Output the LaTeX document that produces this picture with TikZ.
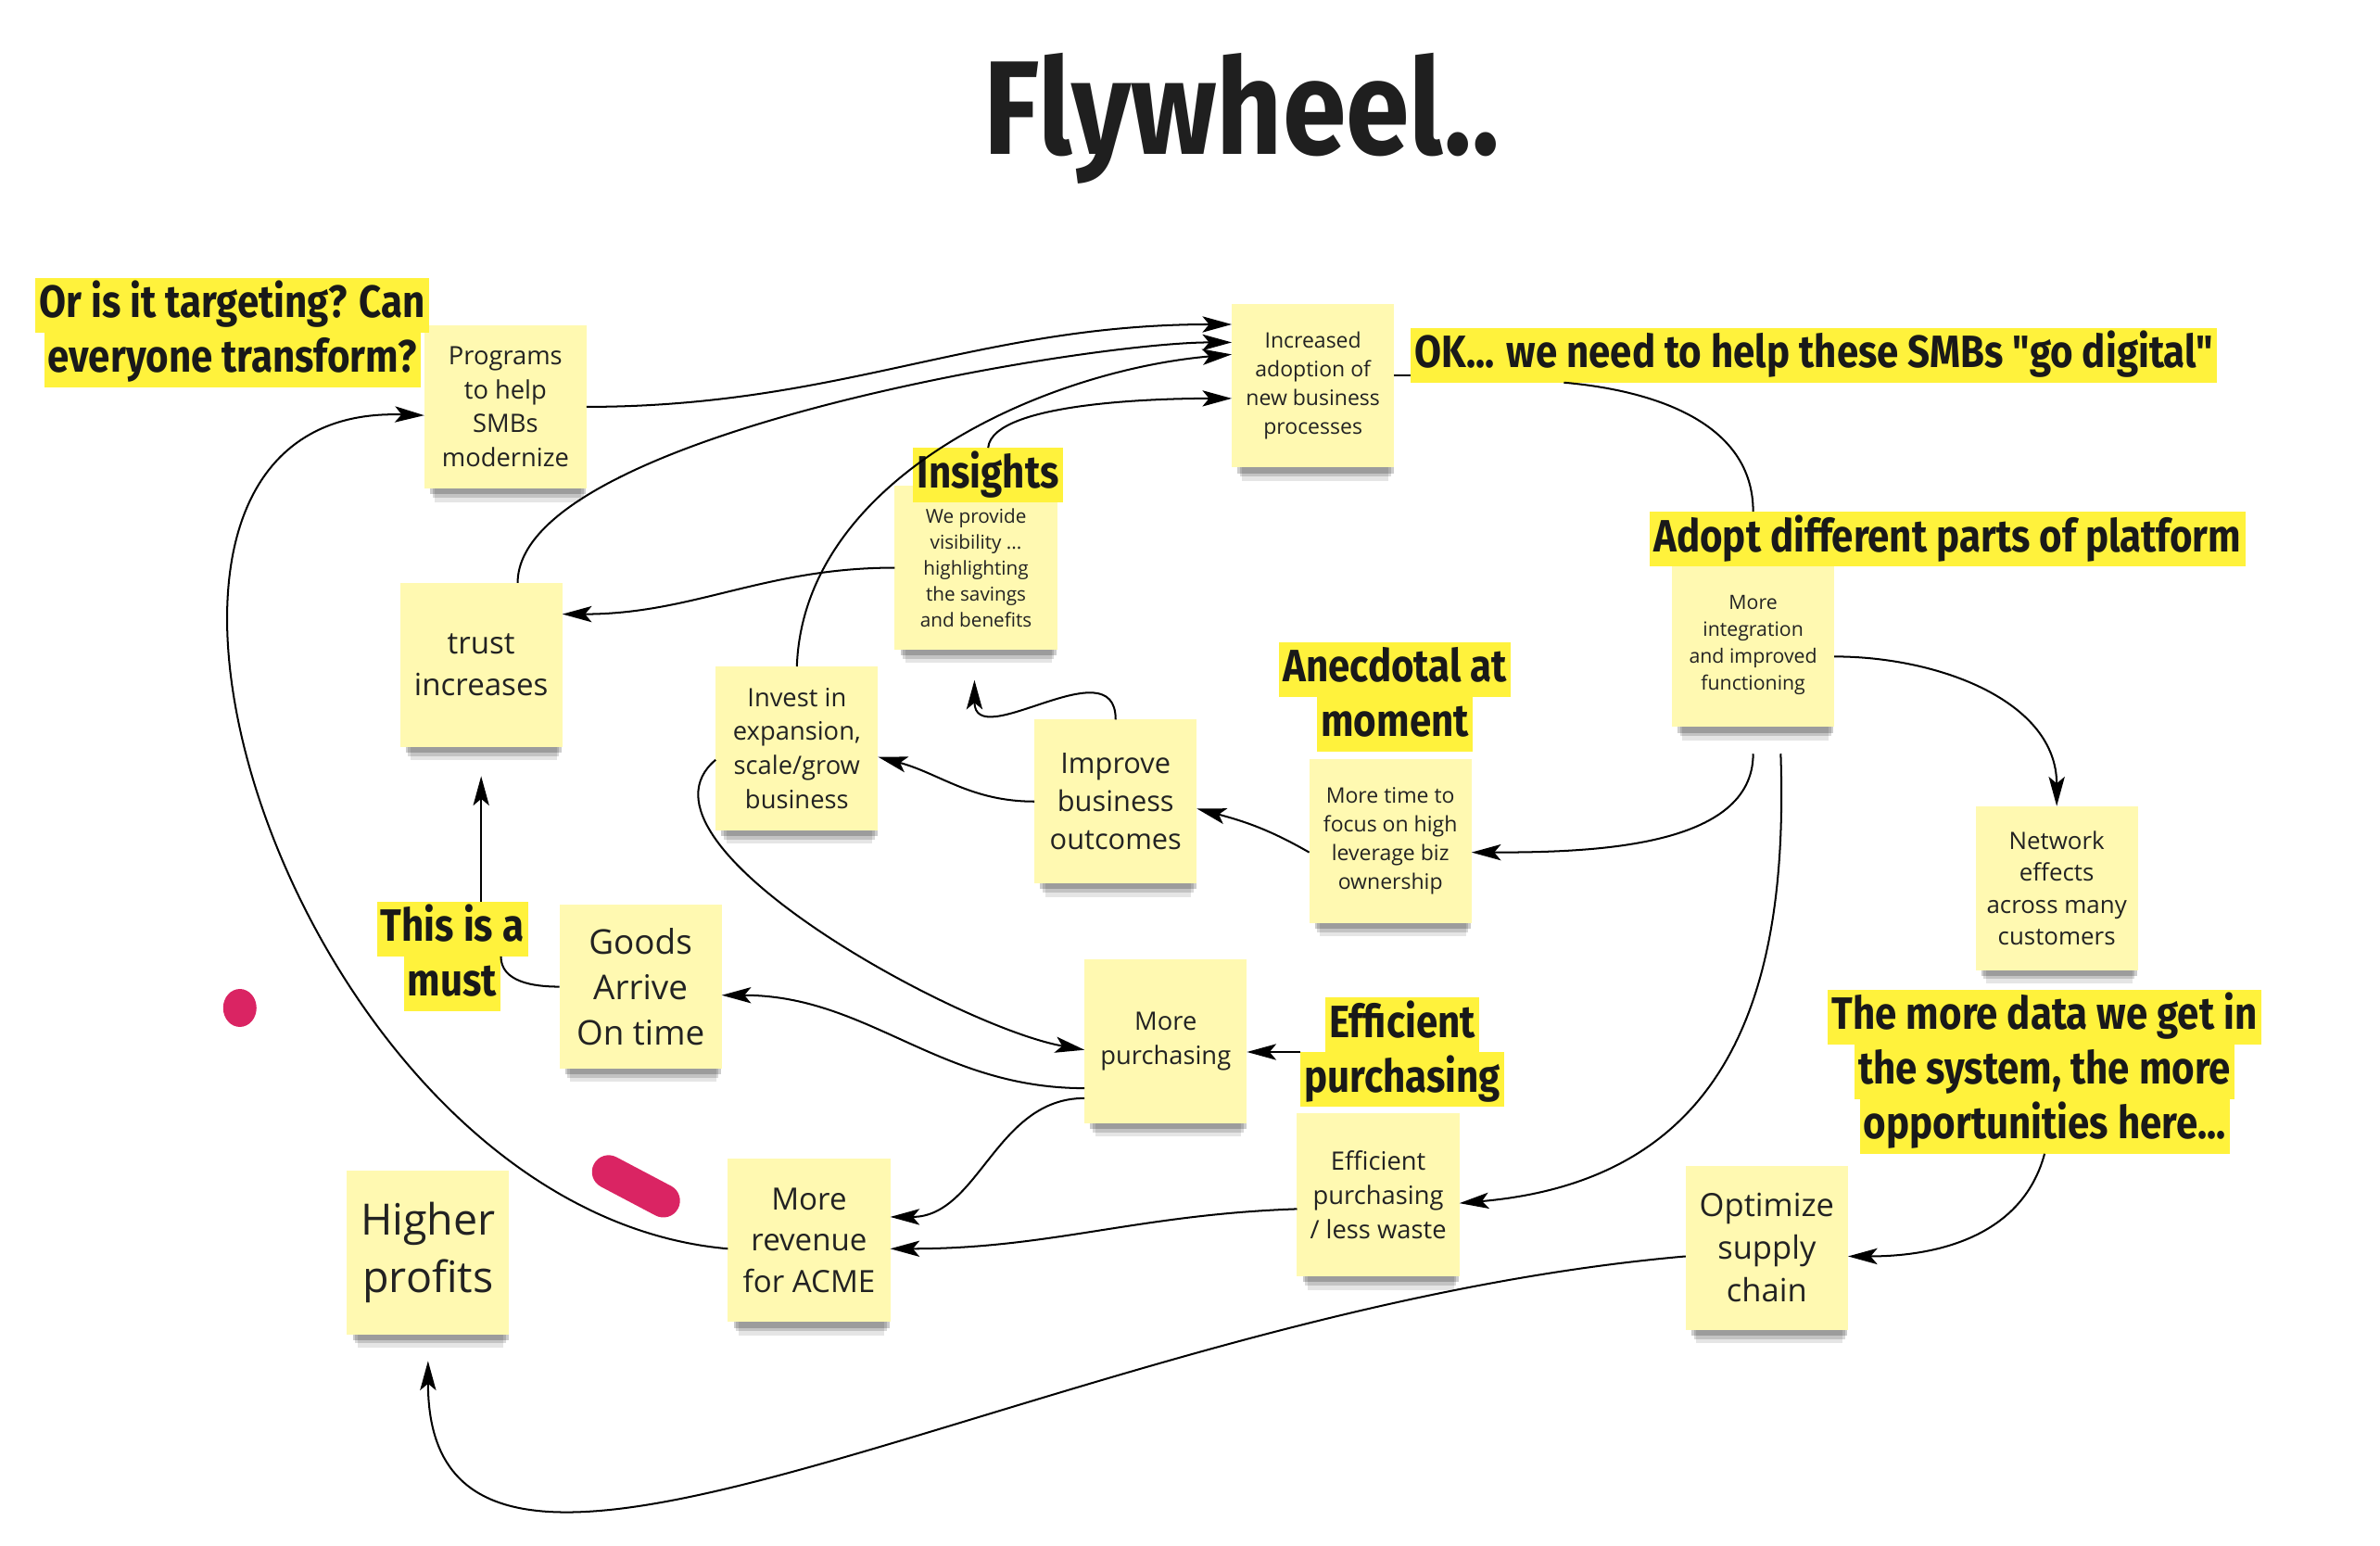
\documentclass[tikz,border=0pt]{standalone}
\usepackage{fontspec}
\setmainfont{Open Sans}
\newfontfamily\headfont[FakeStretch=0.86]{Fira Sans}
\usetikzlibrary{arrows.meta,positioning,shadows,calc}
\definecolor{stickyyellow}{RGB}{255,249,177}
\definecolor{hlyellow}{RGB}{255,242,60}
\definecolor{inkgray}{RGB}{34,34,34}
\definecolor{markerpink}{RGB}{218,36,99}

\begin{document}
\begin{tikzpicture}[
    x=0.02cm, y=0.02cm,
    font=\fontsize{9.5}{12.8}\selectfont,
    text=inkgray,
    sticky/.style={fill=stickyyellow, align=center, minimum width=2.14cm, minimum height=2.16cm, inner sep=2pt, outer sep=0pt,
      drop shadow={shadow xshift=1pt, shadow yshift=-9pt, shadow scale=.9, opacity=.10, fill=black},
      drop shadow={shadow xshift=1pt, shadow yshift=-6pt, shadow scale=.93, opacity=.15, fill=black},
      drop shadow={shadow xshift=1pt, shadow yshift=-3.5pt, shadow scale=.96, opacity=.2, fill=black}},
    hl/.style={fill=hlyellow, text=black!90, inner xsep=1.5pt, inner ysep=1.5pt, outer sep=0pt, text height=13.5pt, text depth=4pt,
      font=\headfont\bfseries\fontsize{17}{20}\selectfont},
    arrow/.style={-{Stealth[length=11pt, width=6pt, inset=2.5pt]}, line width=0.7pt},
    link/.style={line width=0.7pt},
    marker/.style={markerpink, line width=0.44cm, line cap=round}
  ]
    \useasboundingbox (0,0) rectangle (1568,-1018);

    \node[font=\headfont\bfseries\fontsize{50}{58}\selectfont, text=black!88] (title) at (818,-78) {Flywheel..};

    % sticky notes
    \node[sticky] (progs) at (333,-268) {Programs\\to help\\SMBs\\modernize};
    \node[sticky, font=\fontsize{8}{10.8}\selectfont] (adoption) at (865,-254) {Increased\\adoption of\\new business\\processes};
    \node[sticky, font=\fontsize{7.2}{9.7}\selectfont] (visib) at (643,-374) {We provide\\visibility ...\\highlighting\\the savings\\and benefits};
    \node[sticky, font=\fontsize{11.5}{15.4}\selectfont] (trust) at (317,-438) {trust\\increases};
    \node[sticky] (invest) at (525,-493) {Invest in\\expansion,\\scale/grow\\business};
    \node[sticky, font=\fontsize{10.7}{14.2}\selectfont] (improve) at (735,-528) {Improve\\business\\outcomes};
    \node[sticky, font=\fontsize{8}{10.8}\selectfont] (moretime) at (916,-554) {More time to\\focus on high\\leverage biz\\ownership};
    \node[sticky, font=\fontsize{7.4}{10}\selectfont] (integr) at (1155,-425) {More\\integration\\and improved\\functioning};
    \node[sticky, font=\fontsize{9}{12}\selectfont] (network) at (1355,-585) {Network\\effects\\across many\\customers};
    \node[sticky, font=\fontsize{12.8}{17}\selectfont] (goods) at (422,-650) {Goods\\Arrive\\On time};
    \node[sticky] (purch) at (768,-686) {More\\purchasing};
    \node[sticky] (effpurch) at (908,-787) {Efficient\\purchasing\\/ less waste};
    \node[sticky, font=\fontsize{12}{16}\selectfont] (optim) at (1164,-822) {Optimize\\supply\\chain};
    \node[sticky, font=\fontsize{11.5}{15.4}\selectfont] (revenue) at (533,-817) {More\\revenue\\for ACME};
    \node[sticky, font=\fontsize{16.2}{21.6}\selectfont] (profits) at (282,-825) {Higher\\profits};

    % highlighted comments
    \node[hl] (qa1) at (153,-201) {Or is it targeting? Can};
    \node[hl, below=0pt of qa1] (qa2) {everyone transform?};
    \node[hl] (okdigital) at (1195,-234) {OK... we need to help these SMBs "go digital"};
    \node[hl] (adoptparts) at (1283,-355) {Adopt different parts of platform};
    \node[hl] (insightlbl) at (651,-313) {Insights};
    \node[hl] (anec1) at (919,-441) {Anecdotal at};
    \node[hl, below=0pt of anec1] (anec2) {moment};
    \node[hl] (must1) at (298,-612) {This is a};
    \node[hl, below=0pt of must1] (must2) {must};
    \node[hl] (eff1) at (924,-675) {Efficient};
    \node[hl, below=0pt of eff1] (eff2) {purchasing};
    \node[hl] (data1) at (1347,-670) {The more data we get in};
    \node[hl, below=0pt of data1] (data2) {the system, the more};
    \node[hl, below=0pt of data2] (data3) {opportunities here...};

    \coordinate (belowvisib) at (642,-448);

    % marker strokes
    \fill[markerpink] (158,-664) ellipse [x radius=0.22cm, y radius=0.25cm];
    \draw[marker] (401,-772) -- (437,-791);

    % connectors
    \draw[arrow] (progs.east) to[out=0, in=180] (adoption.143);
    \draw[arrow] (trust.66) to[out=90, in=180, looseness=.5] (adoption.152);
    \draw[arrow] (invest.north) to[out=88, in=185, looseness=.9] (adoption.159);
    \draw[arrow] (insightlbl.north) to[out=85, in=180, looseness=.5] (adoption.189);
    \draw[arrow] (visib.west) to[out=180, in=0] (trust.32);
    \draw[arrow] (improve.north) to[out=90, in=-90, looseness=1.3] (belowvisib);
    \draw[arrow] (improve.west) to[out=180, in=-15] (invest.354);
    \draw[arrow] (moretime.188) to[out=150, in=-15] (improve.355);
    \draw[arrow] (invest.188) to[out=220, in=170, looseness=.7] (purch.186);
    \draw[link] (adoption.7) -- (okdigital.west |- adoption.7);
    \draw[link] ($(okdigital.south west)!0.19!(okdigital.south east)$) to[out=-5, in=90] (adoptparts.north -| integr.north);
    \draw[arrow] (integr.352) to[out=0, in=90] (network.north);
    \draw[arrow, shorten <=10pt] (integr.south) to[out=-90, in=0] (moretime.352);
    \draw[arrow, shorten <=10pt] (integr.288) to[out=-88, in=5, looseness=1.2] (effpurch.354);
    \draw[arrow] (data3.south) to[out=-105, in=0] (optim.354);
    \draw[arrow, shorten >=10pt] (optim.186) .. controls +(185:420) and +(-90:250) .. (profits.south);
    \draw[arrow] (effpurch.190) to[out=182, in=0] (revenue.354);
    \draw[arrow] (purch.215) to[out=180, in=0] (revenue.16);
    \draw[arrow] (purch.210) to[out=180, in=0] (goods.354);
    \draw[arrow] (eff2.north west) -- (purch.east |- eff2.north west);
    \draw[link] (goods.west) to[out=180, in=-90] (must2.north east);
    \draw[arrow, shorten >=11pt] (must1.north -| trust.south) -- (trust.south);
    \draw[arrow] (revenue.186) .. controls +(175:290) and +(178:255) .. (progs.186);
\end{tikzpicture}
\end{document}
